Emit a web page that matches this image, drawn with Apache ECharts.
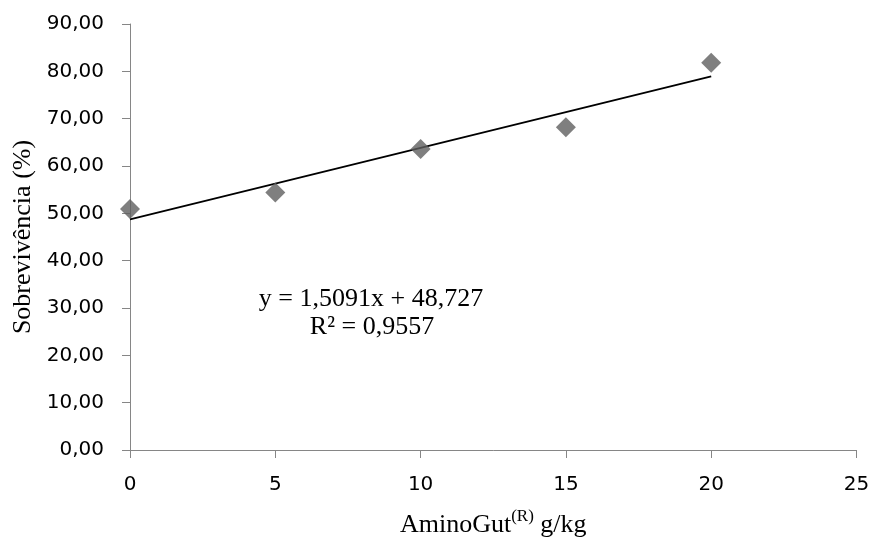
<!DOCTYPE html>
<html><head><meta charset="utf-8">
<script src="https://cdn.jsdelivr.net/npm/echarts@6/dist/echarts.min.js"></script>
<style>html,body{margin:0;padding:0;background:#fff}#c{width:873px;height:537px}</style>
</head><body><div id="c"></div>
<script>
var doses = [0, 5, 10, 15, 20];
var survival = [50.9, 54.4, 63.6, 68.2, 81.8];
var trendX = [0, 20];
var trendY = [48.727, 78.909];
var eqLines = ['y = 1,5091x + 48,727', 'R² = 0,9557'];

var chart = echarts.init(document.getElementById('c'));
var axisGray = '#868686';
var serif = 'Liberation Serif';
chart.setOption({
  animation: false,
  grid: {left: 130, right: 16.5, top: 24, bottom: 87, containLabel: false, outerBoundsMode: 'none'},
  xAxis: {
    type: 'value', min: 0, max: 25, interval: 5,
    name: '{a|AminoGut}{s|(R)}{a| g/kg}', nameLocation: 'middle', nameGap: 58,
    nameTextStyle: {rich: {
      a: {fontFamily: serif, fontSize: 26, color: '#000', verticalAlign: 'bottom', lineHeight: 30},
      s: {fontFamily: serif, fontSize: 17, color: '#000', verticalAlign: 'top', lineHeight: 30, padding: [0,0,12,0]}
    }},
    axisLine: {show: true, lineStyle: {color: axisGray, width: 1}},
    axisTick: {show: true, length: 8, lineStyle: {color: axisGray}},
    splitLine: {show: false},
    axisLabel: {margin: 25, fontFamily: 'DejaVu Sans', fontSize: 20, color: '#000'}
  },
  yAxis: {
    type: 'value', min: 0, max: 90, interval: 10,
    name: 'Sobrevivência (%)', nameLocation: 'middle', nameGap: 92,
    nameTextStyle: {fontFamily: serif, fontSize: 26, color: '#000'},
    axisLine: {show: true, lineStyle: {color: axisGray, width: 1}},
    axisTick: {show: true, length: 8, lineStyle: {color: axisGray}},
    splitLine: {show: false},
    axisLabel: {margin: 26, fontFamily: 'DejaVu Sans', fontSize: 20, color: '#000',
      formatter: function (v) { return v.toFixed(2).replace('.', ','); }}
  },
  series: [
    {type: 'line', data: trendX.map(function (x, i) { return [x, trendY[i]]; }),
      showSymbol: false, symbol: 'none', lineStyle: {color: '#000', width: 1.8}, z: 2},
    {type: 'scatter', data: doses.map(function (x, i) { return [x, survival[i]]; }),
      symbol: 'diamond', symbolSize: [20, 20], itemStyle: {color: '#5f5f5f'}, z: 3}
  ],
  graphic: [
    {type: 'text', x: 371, y: 299, style: {text: eqLines[0], font: '26px "Liberation Serif"', fill: '#000', align: 'center', verticalAlign: 'middle'}},
    {type: 'text', x: 372, y: 327, style: {text: eqLines[1], font: '26px "Liberation Serif"', fill: '#000', align: 'center', verticalAlign: 'middle'}}
  ]
});
</script></body></html>
